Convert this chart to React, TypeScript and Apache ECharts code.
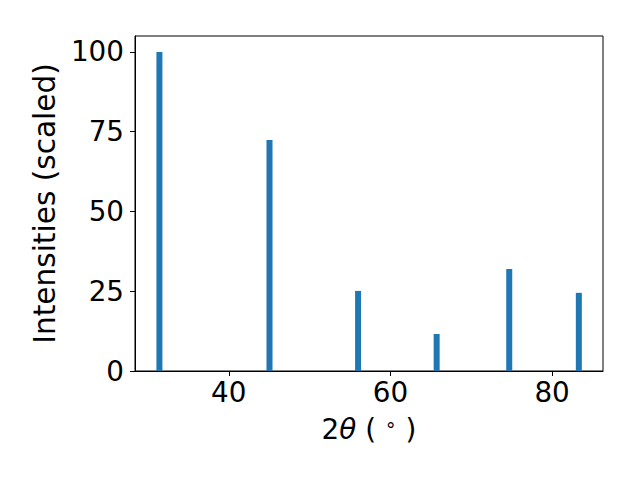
import React, { useEffect, useRef } from "react";
import * as echarts from "echarts";

const peakPositions = [31.42, 45.04, 56.0, 65.72, 74.7, 83.31];
const peakIntensities = [100, 72.4, 25.1, 11.6, 32.0, 24.5];
const xTicks = [40, 60, 80];
const yTicks = [0, 25, 50, 75, 100];

const FONT = "DejaVu Sans";
const FS = 27.8;
const NAME_FS = 29.6;

export default function App() {
  const ref = useRef<HTMLDivElement>(null);
  useEffect(() => {
    if (!ref.current) return;
    const chart = echarts.init(ref.current, null, { renderer: "svg" });
    chart.setOption({
      animation: false,
      backgroundColor: "#ffffff",
      grid: {
        left: 135,
        right: 37,
        top: 36,
        bottom: 109,
        show: true,
        borderColor: "#000000",
        borderWidth: 1,
        containLabel: false,
      },
      xAxis: {
        type: "value",
        min: 28.4,
        max: 86.3,
        name: "{n|2}{i|θ}{n| ( }{s|∘}{n| )}",
        nameLocation: "middle",
        nameGap: 43,
        nameTextStyle: {
          rich: {
            n: { fontFamily: FONT, fontSize: FS, color: "#000" },
            i: { fontFamily: FONT, fontSize: FS, fontStyle: "italic", color: "#000" },
            s: { fontFamily: FONT, fontSize: 19, color: "#000", padding: [0, 0, 12, 0] },
          },
        },
        axisLine: { show: true, onZero: false, lineStyle: { color: "#000", width: 1 } },
        axisTick: {
          show: true,
          inside: false,
          length: 5,
          customValues: xTicks,
          lineStyle: { color: "#000", width: 1 },
        },
        axisLabel: {
          customValues: xTicks,
          margin: 7,
          fontFamily: FONT,
          fontSize: FS,
          color: "#000",
        },
        splitLine: { show: false },
      },
      yAxis: {
        type: "value",
        min: 0,
        max: 105,
        name: "Intensities (scaled)",
        nameLocation: "middle",
        nameGap: 75,
        nameTextStyle: { fontFamily: FONT, fontSize: NAME_FS, color: "#000" },
        axisLine: { show: true, lineStyle: { color: "#000", width: 1 } },
        axisTick: {
          show: true,
          inside: false,
          length: 5,
          customValues: yTicks,
          lineStyle: { color: "#000", width: 1 },
        },
        axisLabel: {
          customValues: yTicks,
          margin: 11,
          fontFamily: FONT,
          fontSize: FS,
          color: "#000",
        },
        splitLine: { show: false },
      },
      series: [
        {
          type: "bar",
          data: peakPositions.map((x, i) => [x, peakIntensities[i]]),
          barWidth: 6,
          itemStyle: { color: "#1f77b4" },
        },
      ],
    });
    return () => chart.dispose();
  }, []);
  return <div ref={ref} style={{ width: 640, height: 480, margin: -8 }} />;
}
